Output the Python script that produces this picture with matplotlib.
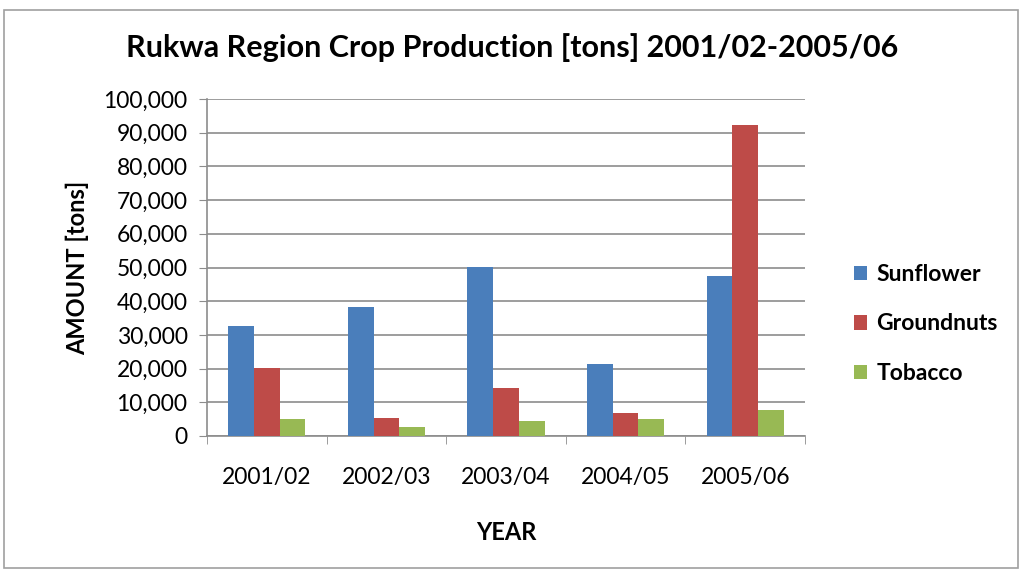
import numpy as np
import matplotlib.pyplot as plt
from matplotlib.patches import Rectangle
from matplotlib.ticker import FuncFormatter

# datos
years = ["2001/02", "2002/03", "2003/04", "2004/05", "2005/06"]
sunflower = [32600, 38200, 50200, 21400, 47600]
groundnuts = [20300, 5400, 14300, 6900, 92300]
tobacco = [4900, 2700, 4400, 4900, 7700]

series = [("Sunflower", sunflower, "#4a7ebb"),
          ("Groundnuts", groundnuts, "#be4b48"),
          ("Tobacco", tobacco, "#98b954")]

plt.rcParams['font.family'] = ['Lato', 'DejaVu Sans']

fig = plt.figure(figsize=(10.24, 5.71), dpi=100)
ax = fig.add_axes([207 / 1024, 1 - 436 / 571, 598 / 1024, 337 / 571])

# marco exterior del grafico
fig.patches.append(Rectangle((4 / 1024, 3 / 571), 1014 / 1024, 558 / 571,
                             transform=fig.transFigure, fill=False,
                             edgecolor="#a0a0a0", linewidth=1.2))

x = np.arange(len(years))
w = 0.215
for i, (name, vals, col) in enumerate(series):
    ax.bar(x + (i - 1) * w, vals, width=w, color=col, label=name, zorder=3)

ax.set_xlim(-0.5, len(years) - 0.5)
ax.set_ylim(0, 100000)
ax.set_yticks(np.arange(0, 100001, 10000))
ax.yaxis.set_major_formatter(FuncFormatter(lambda v, p: f"{int(v):,}"))
ax.grid(axis="y", color="#8c8c8c", linewidth=1.2, zorder=0)

ax.set_xticks(x)
ax.set_xticklabels(years)
ax.set_xticks(np.arange(-0.5, len(years), 1), minor=True)
ax.tick_params(axis="x", which="major", length=0, pad=22, labelsize=16.5)
ax.tick_params(axis="x", which="minor", length=6, color="#8c8c8c", direction="out")
ax.tick_params(axis="y", length=6, color="#8c8c8c", labelsize=16.5, pad=8)

for side in ["top", "right"]:
    ax.spines[side].set_visible(False)
for side in ["left", "bottom"]:
    ax.spines[side].set_color("#8c8c8c")
    ax.spines[side].set_linewidth(1.2)

ax.set_xlabel("YEAR", fontsize=17, fontweight="bold", labelpad=24)
ax.set_ylabel("AMOUNT [tons]", fontsize=17, fontweight="bold", labelpad=10)
fig.text(0.5, 1 - 48 / 571, "Rukwa Region Crop Production [tons] 2001/02-2005/06",
         ha="center", va="center", fontsize=22, fontweight="bold")

ax.legend(loc="center left", bbox_to_anchor=(833 / 1024, 1 - 324 / 571),
          bbox_transform=fig.transFigure, frameon=False,
          prop={"size": 16.5, "weight": "bold"},
          handlelength=0.6, handleheight=0.6, labelspacing=1.25, handletextpad=0.4)

fig.savefig("out.png", dpi=100)
